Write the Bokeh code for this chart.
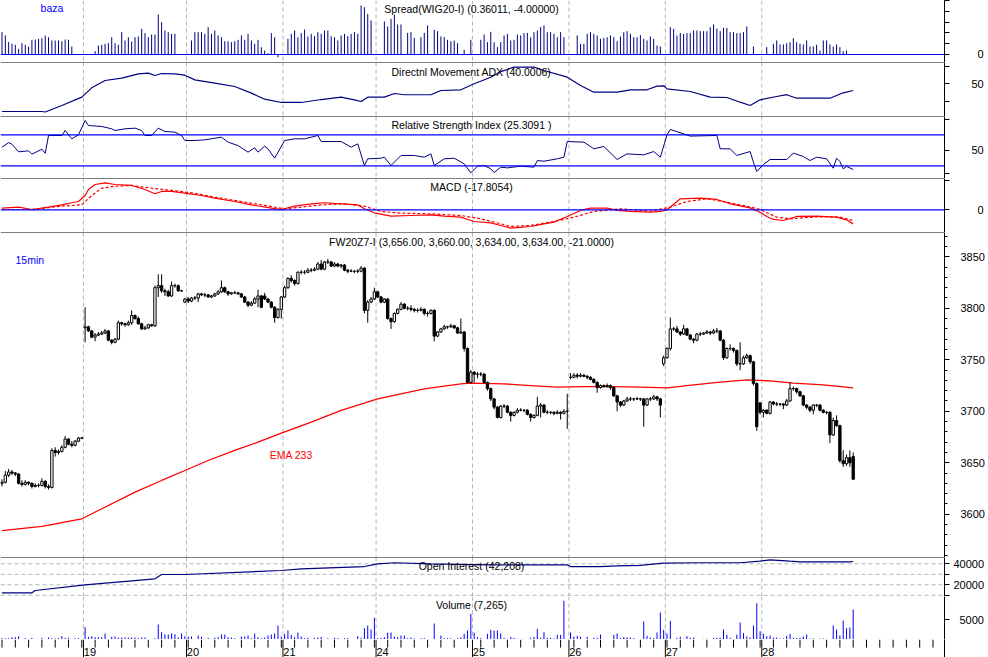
from bokeh.plotting import figure
from bokeh.layouts import column
from bokeh.models import Range1d, FixedTicker, Span
from bokeh.core.properties import value
from bokeh.embed import file_html
from bokeh.resources import INLINE

# ---------------- data (15-min bars, index 0..256) ----------------
day_labels = ["19", "20", "21", "24", "25", "26", "27", "28"]
day_start = [25, 56, 85, 113, 142, 171, 200, 229]

close = [3631,3638,3641,3640,3639,3630,3629,3631,3630,3627,3628,3628,3632,3627,3626,3662,3660,3661,3665,3673,3668,3667,3671,3674,3674,
         3782,3778,3772,3774,3775,3776,3778,3769,3767,3770,3786,3785,3784,3786,3793,3790,3785,3780,3781,3784,3783,3820,3822,3817,3816,3812,3822,3822,3817,3817,
         3809,3807,3810,3810,3814,3813,3813,3811,3812,3814,3816,3820,3816,3814,3815,3815,3814,3811,3806,3803,3805,3809,3812,3801,3809,3806,3801,3791,3799,3811,
         3820,3829,3827,3824,3835,3835,3835,3837,3837,3838,3843,3838,3845,3845,3841,3843,3841,3842,3837,3836,3836,3836,3836,3839,3798,3806,3809,3816,
         3811,3806,3809,3790,3787,3795,3799,3804,3800,3800,3799,3798,3798,3799,3795,3795,3798,3773,3777,3780,3782,3782,3783,3781,3776,3777,3761,3728,3738,
         3736,3736,3736,3728,3722,3712,3704,3694,3705,3705,3699,3696,3699,3701,3701,3701,3697,3694,3696,3705,3706,3699,3699,3699,3698,3699,3698,3700,3700,
         3733,3735,3734,3735,3734,3733,3731,3728,3723,3725,3724,3725,3723,3715,3709,3706,3710,3712,3712,3712,3712,3712,3706,3712,3712,3714,3712,3706,
         3752,3761,3780,3780,3777,3775,3780,3774,3770,3769,3775,3775,3776,3777,3776,3778,3778,3769,3752,3761,3761,3759,3746,3746,3752,3754,3748,3727,3685,
         3699,3701,3698,3709,3707,3707,3707,3706,3710,3722,3722,3719,3715,3706,3704,3701,3706,3706,3701,3699,3699,3677,3691,3686,3652,3649,3655,3650,3634]
high = [3634,3642,3644,3643,3641,3640,3633,3633,3632,3631,3630,3630,3635,3633,3629,3664,3665,3663,3667,3676,3674,3671,3672,3675,3675,
        3801,3783,3779,3776,3777,3778,3780,3779,3770,3771,3788,3787,3786,3788,3798,3794,3792,3786,3783,3785,3785,3822,3833,3833,3819,3818,3826,3824,3823,3818,
        3810,3811,3811,3812,3815,3815,3815,3814,3813,3815,3818,3827,3821,3817,3816,3817,3816,3815,3812,3807,3807,3811,3818,3813,3815,3810,3807,3802,3800,3812,
        3822,3830,3832,3828,3836,3837,3837,3839,3839,3840,3845,3847,3846,3848,3846,3845,3844,3843,3843,3838,3838,3837,3838,3841,3840,3808,3811,3820,
        3817,3812,3810,3810,3791,3796,3800,3806,3805,3802,3803,3800,3800,3801,3800,3797,3799,3799,3778,3781,3784,3783,3785,3784,3782,3790,3778,3762,3740,
        3739,3738,3738,3737,3729,3723,3713,3705,3706,3707,3706,3700,3700,3703,3703,3702,3702,3698,3697,3714,3708,3707,3701,3700,3700,3701,3700,3702,3717,
        3737,3737,3737,3737,3736,3735,3734,3732,3729,3726,3726,3727,3726,3724,3716,3710,3711,3714,3714,3713,3714,3713,3713,3713,3714,3716,3715,3713,
        3754,3762,3791,3782,3783,3778,3784,3781,3775,3771,3776,3777,3777,3779,3778,3780,3781,3779,3770,3762,3765,3762,3760,3767,3754,3756,3755,3749,3728,
        3709,3702,3702,3710,3710,3709,3708,3708,3712,3728,3724,3723,3720,3716,3707,3705,3707,3707,3707,3702,3700,3700,3694,3696,3687,3662,3658,3662,3660]
low = [3627,3630,3636,3638,3637,3629,3627,3628,3628,3625,3626,3626,3627,3625,3624,3625,3656,3658,3660,3664,3667,3665,3666,3670,3673,
       3767,3777,3771,3768,3773,3774,3775,3768,3765,3766,3769,3783,3782,3783,3784,3789,3784,3779,3779,3780,3782,3782,3811,3815,3812,3811,3811,3820,3816,3816,
       3805,3805,3806,3808,3806,3812,3811,3810,3810,3811,3813,3815,3815,3812,3813,3814,3813,3810,3805,3801,3802,3804,3801,3800,3808,3805,3800,3786,3790,3790,
       3810,3819,3825,3822,3823,3833,3833,3834,3835,3836,3837,3837,3837,3843,3840,3840,3840,3839,3836,3834,3835,3834,3834,3835,3795,3786,3805,3808,
       3810,3805,3805,3789,3780,3786,3794,3798,3799,3798,3797,3796,3796,3797,3793,3792,3794,3768,3772,3776,3779,3780,3781,3780,3775,3775,3758,3727,3727,
       3728,3732,3734,3727,3720,3710,3702,3693,3693,3703,3698,3690,3695,3698,3700,3699,3696,3690,3693,3695,3694,3698,3697,3697,3696,3697,3692,3697,3683,
       3731,3732,3732,3733,3733,3731,3730,3727,3718,3722,3723,3723,3721,3714,3700,3704,3705,3709,3710,3710,3711,3710,3685,3705,3710,3711,3710,3694,
       3744,3751,3759,3778,3776,3773,3774,3773,3769,3766,3768,3773,3774,3775,3774,3775,3776,3768,3750,3751,3759,3757,3744,3740,3745,3751,3746,3725,3681,
       3697,3694,3697,3697,3706,3705,3705,3702,3705,3709,3720,3717,3714,3705,3702,3699,3697,3704,3700,3698,3697,3669,3676,3685,3650,3646,3647,3646,3634]
gap_open = {0: 3630, 25: 3781, 55: 3806, 79: 3812, 171: 3733, 199: 3746, 228: 3708, 256: 3656}

ema_idx = [0,12,24,30,40,48,55,62,70,77,84,93,102,113,127,138,141,151,159,167,175,184,192,200,208,216,224,228,232,238,247,256]
ema_val = [3584,3588.2,3595.6,3605.3,3621.5,3632.8,3642.5,3652.2,3662,3670,3678.8,3689.5,3700.8,3712,3721.8,3726.6,3727.3,3726.6,3725,3723.4,3724,3724,3723.4,3722.8,3725.6,3728.3,3730.5,3730,3729.2,3727.3,3725.7,3722.7]

N = None
spread = [2.07,1.76,1.14,0.99,0.9,0.52,1.05,0.9,0.74,1.36,1.39,1.45,1.51,1.76,1.6,1.3,1.3,1.3,1.23,1.39,1.36,0.74,N,N,N,N,N,N,
          0.31,0.83,0.9,0.99,1.05,1.6,1.05,0.9,2.07,1.3,1.6,1.2,1.6,1.67,2.38,1.98,1.6,1.85,1.85,3.7,3.0,2.22,2.07,1.91,1.91,N,N,N,N,
          1.3,2.07,2.07,2.07,1.91,2.53,1.91,2.22,1.76,1.6,1.23,1.23,1.14,1.23,1.36,1.76,1.36,1.91,1.3,0.99,1.36,0.68,0.37,0.12,1.98,1.6,-0.25,N,N,
          1.45,1.91,2.22,1.6,1.98,2.31,1.67,1.91,1.7,2.07,1.91,2.22,2.22,1.7,1.6,1.3,1.76,1.91,1.7,1.91,2.07,1.91,4.54,4.38,3.77,3.15,N,N,N,
          3.06,2.6,3.3,3.7,2.78,2.78,N,2.0,2.07,1.54,N,1.6,2.0,2.69,N,2.28,2.16,1.67,1.6,1.36,1.23,1.3,1.05,N,0.43,N,1.36,N,N,
          1.36,1.85,1.14,2.1,1.14,0.68,1.14,1.76,1.91,1.3,1.36,1.85,1.76,1.98,2.0,1.6,2.07,2.22,2.53,2.69,2.07,2.07,1.91,1.6,2.07,1.6,N,N,N,
          1.76,0.99,0.99,1.91,2.07,1.91,1.76,1.45,1.54,1.6,1.76,1.6,1.23,1.67,2.07,2.16,1.91,1.6,1.6,1.79,1.45,1.3,1.67,1.45,0.83,0.74,N,N,
          2.53,2.38,1.76,2.0,1.91,1.98,1.98,2.22,2.22,2.16,2.16,2.16,2.53,2.78,2.38,2.16,2.47,2.47,2.07,2.07,1.98,1.98,2.07,2.6,N,0.74,N,N,N,
          0.68,N,0.99,1.3,0.93,0.93,1.05,1.14,1.51,1.14,0.99,0.93,1.3,0.74,0.74,0.9,0.37,1.3,1.3,0.93,0.74,0.93,0.68,0.31,0.37,N,N]

adx_idx = [0,12,13,18,24,27,31,36,41,44,46,48,52,55,58,64,70,75,79,84,90,96,102,106,108,110,115,118,121,129,132,138,142,147,150,154,160,163,170,174,178,185,189,194,197,199,200,207,213,218,222,225,228,233,236,239,245,249,253,256]
adx_val = [10,10,9.3,18.6,30.5,43.8,54.3,57.6,63.8,64.8,61.4,64.3,63.8,61.9,55.2,50.5,45.7,36.2,27.6,22.9,22.9,27.1,30.5,26.7,24.3,30.5,30.5,35.7,33.9,33.9,40,41,49.6,59,67,73.3,73.3,68.6,59,47.1,37.6,37.6,41,41,46.2,46.7,42.4,38.6,30.5,30,23.3,18.6,26.7,31.4,34,29,29,29,36.7,40.0]

rsi_idx = [0,2,3,5,8,9,12,13,14,18,19,21,23,25,26,30,33,34,37,40,42,43,45,47,49,52,54,55,58,61,66,68,71,74,76,77,79,80,82,85,88,91,95,96,102,105,107,109,110,114,115,117,120,124,127,129,130,133,136,139,141,143,145,147,148,150,152,156,160,161,163,167,169,170,175,178,181,185,188,193,196,198,200,201,207,215,216,219,221,225,226,227,229,231,236,238,241,243,245,248,250,251,252,253,254,256]
rsi_val = [54,59.9,57.8,48,49.3,45,51.4,46.2,69.1,69.1,75.5,64.8,70,88.5,82,80.7,77.7,75.5,77.7,78.6,75.5,69.1,69.1,78.6,74.3,73.4,69.1,62.6,62.6,63.5,66.9,60.5,56.1,47.6,53.2,47.6,55.3,51.9,39.8,62.6,64.8,64.8,69.1,61.3,61.3,54,58.3,30.4,39,39.8,41.1,30.4,43.3,43.3,41.1,45.4,30.4,39,39.8,32.5,20.9,29.5,30.4,26.1,21.3,28.2,27.3,29.5,28.2,36.8,35.9,39,41.1,61.3,60.5,51.9,54.9,38.1,45.4,44.1,48.4,41.1,70,76.9,68.3,69.1,51.9,51.9,43.3,48.4,34.6,22.6,31.7,38.1,38.1,46.3,42,36.8,41.1,39,26.9,39.8,35.5,26.1,29.1,25.3]

macd_idx = [0,5,9,14,18,21,23,25,26,28,31,34,39,43,46,48,51,55,60,64,70,75,81,84,88,93,97,102,107,109,112,117,123,129,133,138,142,147,150,153,159,163,166,170,174,177,182,185,189,195,198,200,203,204,210,215,219,225,228,230,232,235,239,245,251,254,256]
macd_val = [2.1,3.4,0.4,3.4,6.3,8.9,10.5,18.1,25.7,32,34.1,32,30.8,25.7,20.3,23.2,23.2,21.1,18.1,14.8,10.5,6.3,2.1,0.4,4.6,7.6,8.9,7.6,6.3,1.3,-3.8,-8,-7.2,-6.3,-8,-9.3,-14.8,-16.5,-19.8,-23.2,-21.1,-17.7,-15.6,-8.4,-0.8,2.1,2.1,-0.8,-2.1,-3,-2.1,0,10.5,13.9,14.8,13.1,7.6,2.5,-3,-8.4,-12.2,-13.5,-8.4,-8,-9.3,-12.7,-17.8]
sig_idx = [0,9,18,24,27,30,34,39,45,51,57,64,72,79,85,90,96,103,109,114,120,129,138,144,150,153,159,166,172,178,186,195,201,206,212,218,224,228,233,237,245,252,256]
sig_val = [0.4,0.4,4.6,6.3,18.1,27.4,29.9,30.8,27.4,24.5,21.5,16,10.5,5.5,1.3,3.4,6.3,7.6,4.6,-2.1,-4.2,-5.1,-7.2,-11.4,-17.7,-21.1,-19.8,-14.8,-9.3,-2.1,1.3,-1.7,3.4,10.5,13.9,9.7,4.6,0.4,-9.3,-11.4,-8.9,-9.3,-13.5]

oi_idx = [0,9,10,25,46,48,55,84,90,109,113,118,129,147,170,171,180,185,192,199,210,222,228,231,237,240,255,256]
oi_val = [12400,12400,14600,20000,25700,29800,29800,33600,35200,37400,40000,41000,40000,39000,39000,37400,37400,38000,38500,40600,41000,41000,42500,43800,42500,41900,41900,42208]

volume = [330,330,330,580,580,830,N,330,N,415,N,N,415,N,500,330,250,330,830,415,415,N,330,330,N,
          3080,580,830,580,580,580,1500,N,665,750,415,500,500,415,500,500,330,500,500,N,N,330,3740,1830,1250,1250,1500,1330,500,1500,
          830,750,750,N,1000,665,N,415,N,415,580,1250,1250,580,500,330,N,750,750,1000,330,1500,580,330,500,1000,1250,1500,3490,750,
          1330,2240,1160,580,1740,750,330,415,N,415,500,665,N,330,N,415,330,N,330,330,N,N,830,415,2820,3490,2490,5400,
          330,415,580,1740,1740,750,580,1000,1000,330,500,250,N,330,330,N,N,4000,N,1000,330,330,330,N,330,580,1400,2240,6400,
          1740,580,330,N,1400,2410,2240,2240,1580,415,170,665,415,170,N,170,N,415,665,2660,415,1830,415,415,250,1160,1160,9700,N,
          1740,750,915,665,N,665,N,415,415,1250,N,N,N,1160,1500,330,580,500,500,330,N,N,4490,915,500,330,1740,6740,
          2410,1500,4650,83,415,665,170,830,415,500,N,N,170,170,N,415,415,415,2490,1160,415,83,1250,4240,1580,750,500,3490,9050,
          2080,1400,830,1000,500,500,250,250,915,1400,415,330,415,750,1250,250,250,N,250,250,N,N,3490,2490,1000,4740,2820,2990,7490]

titles = {
    "spread": "Spread(WIG20-I) (0.36011, -4.00000)",
    "adx": "Directnl Movement ADX (40.0006)",
    "rsi": "Relative Strength Index (25.3091 )",
    "macd": "MACD (-17.8054)",
    "price": "FW20Z7-I (3,656.00, 3,660.00, 3,634.00, 3,634.00, -21.0000)",
    "oi": "Open Interest (42,208)",
    "vol": "Volume (7,265)",
}

# ---------------- layout helpers ----------------
FONT = "Liberation Sans"
FW = 944
XR = Range1d(-0.45, 283.46)
TX = 141.2  # title centre (bar units)
NAVY = "#000080"
BLUE = "#0000ff"
RED = "#ff0000"
SEP = "#b4b4b4"


def make_fig(h, y0, y1, ticks, shown, standoff, minor=None, top_line=True, seps=True):
    p = figure(frame_width=FW, frame_height=h, x_range=XR, y_range=Range1d(y0, y1),
               x_axis_location=None, y_axis_location="right", toolbar_location=None,
               output_backend="svg", min_border_left=0, min_border_right=44,
               min_border_top=0, min_border_bottom=0, outline_line_color=None,
               background_fill_color="white", border_fill_color="white")
    p.grid.visible = False
    ax = p.yaxis[0]
    ax.ticker = FixedTicker(ticks=ticks, minor_ticks=minor or [])
    ax.major_label_overrides = {t: "" for t in ticks if t not in shown}
    ax.axis_line_color = "black"
    ax.major_tick_line_color = "black"
    ax.minor_tick_line_color = "black"
    ax.major_tick_out = 5
    ax.major_tick_in = 0
    ax.minor_tick_out = 3
    ax.minor_tick_in = 0
    ax.major_label_standoff = standoff
    ax.major_label_text_font = FONT
    ax.major_label_text_font_size = "11px"
    ax.major_label_text_color = "black"
    if seps:
        for s in day_start:
            p.add_layout(Span(location=s - 0.5, dimension="height", line_color=SEP,
                              line_dash="4 3", line_width=1, level="underlay"))
    if top_line:
        p.add_layout(Span(location=y1, dimension="width", line_color="black", line_width=1))
    return p


def title(p, y, key):
    p.text(x=[TX], y=[y], text=[titles[key]], text_font=value(FONT),
           text_font_size=value("10.5px"), text_align="center", text_baseline="middle",
           text_color="black")


def pairs(vals):
    xs = [i for i, v in enumerate(vals) if v is not None]
    ys = [v for v in vals if v is not None]
    return xs, ys

# ---------------- spread ----------------
ps = make_fig(62, -0.741, 5.0, [0, 1, 2, 3, 4, 5], [0], 28, top_line=False)
sx, sy = pairs(spread)
ps.segment(x0=sx, y0=[0] * len(sx), x1=sx, y1=sy, line_color=NAVY, line_width=1)
ps.add_layout(Span(location=0, dimension="width", line_color=BLUE, line_width=1.2))
title(ps, 4.17, "spread")
ps.text(x=[11.6], y=[4.32], text=["baza"], text_font=value(FONT), text_font_size=value("10.5px"),
        text_align="left", text_baseline="middle", text_color=BLUE)

# ---------------- ADX ----------------
pa = make_fig(54, 2.86, 80, [25, 50, 75], [50], 22)
pa.line(adx_idx, adx_val, line_color=NAVY, line_width=1.2)
title(pa, 67.1, "adx")

# ---------------- RSI ----------------
pr = make_fig(62, 13.6, 93.6, [20, 50, 90], [50], 22)
pr.add_layout(Span(location=70, dimension="width", line_color=BLUE, line_width=1.2))
pr.add_layout(Span(location=30, dimension="width", line_color=BLUE, line_width=1.2))
pr.line(rsi_idx, rsi_val, line_color=NAVY, line_width=1)
title(pr, 82, "rsi")

# ---------------- MACD ----------------
pm = make_fig(54, -28.7, 39.6, [0, 37], [0], 28)
pm.add_layout(Span(location=0, dimension="width", line_color=BLUE, line_width=1.2))
pm.line(sig_idx, sig_val, line_color=RED, line_width=1.2, line_dash="3 2")
pm.line(macd_idx, macd_val, line_color=RED, line_width=1.2)
title(pm, 28.6, "macd")

# ---------------- price ----------------
pp = make_fig(325, 3558, 3873.6, [3600, 3650, 3700, 3750, 3800, 3850],
              [3600, 3650, 3700, 3750, 3800, 3850], 11, minor=list(range(3560, 3880, 10)))
idx = list(range(len(close)))
opens = [gap_open.get(i, close[i - 1] if i > 0 else close[i]) for i in idx]
tops = [max(o, c) for o, c in zip(opens, close)]
bots = [min(o, c) for o, c in zip(opens, close)]
his = [max(h, t) for h, t in zip(high, tops)]
los = [min(l, b) for l, b in zip(low, bots)]
fills = ["black" if c < o else "white" for o, c in zip(opens, close)]
pp.line(ema_idx, ema_val, line_color=RED, line_width=1.3)
pp.segment(x0=idx, y0=los, x1=idx, y1=his, line_color="black", line_width=1)
pp.vbar(x=idx, width=0.7, top=tops, bottom=bots, fill_color=fills, line_color="black", line_width=1)
title(pp, 3864.2, "price")
pp.text(x=[4.06], y=[3847.1], text=["15min"], text_font=value(FONT), text_font_size=value("10.5px"),
        text_align="left", text_baseline="middle", text_color=BLUE)
pp.text(x=[80.5], y=[3657.1], text=["EMA 233"], text_font=value(FONT), text_font_size=value("10.5px"),
        text_align="left", text_baseline="middle", text_color=RED)

# ---------------- open interest ----------------
po = make_fig(39, 8860, 46000, [10000, 20000, 30000, 40000], [20000, 40000], 4)
for g in [10000, 20000, 30000, 40000]:
    po.add_layout(Span(location=g, dimension="width", line_color=SEP, line_dash="4 3",
                       line_width=1, level="underlay"))
po.line(oi_idx, oi_val, line_color=NAVY, line_width=1.2)
title(po, 37430, "oi")

# ---------------- volume ----------------
pv = make_fig(43, 0, 10750, [5000], [5000], 10, top_line=False)
vx, vy = pairs(volume)
pv.segment(x0=vx, y0=[0] * len(vx), x1=vx, y1=vy, line_color=BLUE, line_width=1)
pv.add_layout(Span(location=0, dimension="width", line_color="black", line_width=1))
title(pv, 8750, "vol")

# ---------------- date strip ----------------
pd_ = make_fig(18, 0, 1, [], [], 0, top_line=False, seps=False)
minor_x = list(range(0, 284, 4))
pd_.segment(x0=minor_x, y0=[0.55] * len(minor_x), x1=minor_x, y1=[1] * len(minor_x),
            line_color="black", line_width=1)
sep_x = [s - 0.5 for s in day_start]
pd_.segment(x0=sep_x, y0=[0] * len(sep_x), x1=sep_x, y1=[1] * len(sep_x),
            line_color="black", line_width=1)
pd_.text(x=[s + 0.1 for s in sep_x], y=[0.3] * len(sep_x), text=day_labels,
         text_font=value(FONT), text_font_size=value("11px"), text_align="left",
         text_baseline="middle", text_color="black")

layout = column(ps, pa, pr, pm, pp, po, pv, pd_, spacing=0)
open("out.html", "w").write(file_html(layout, INLINE))
